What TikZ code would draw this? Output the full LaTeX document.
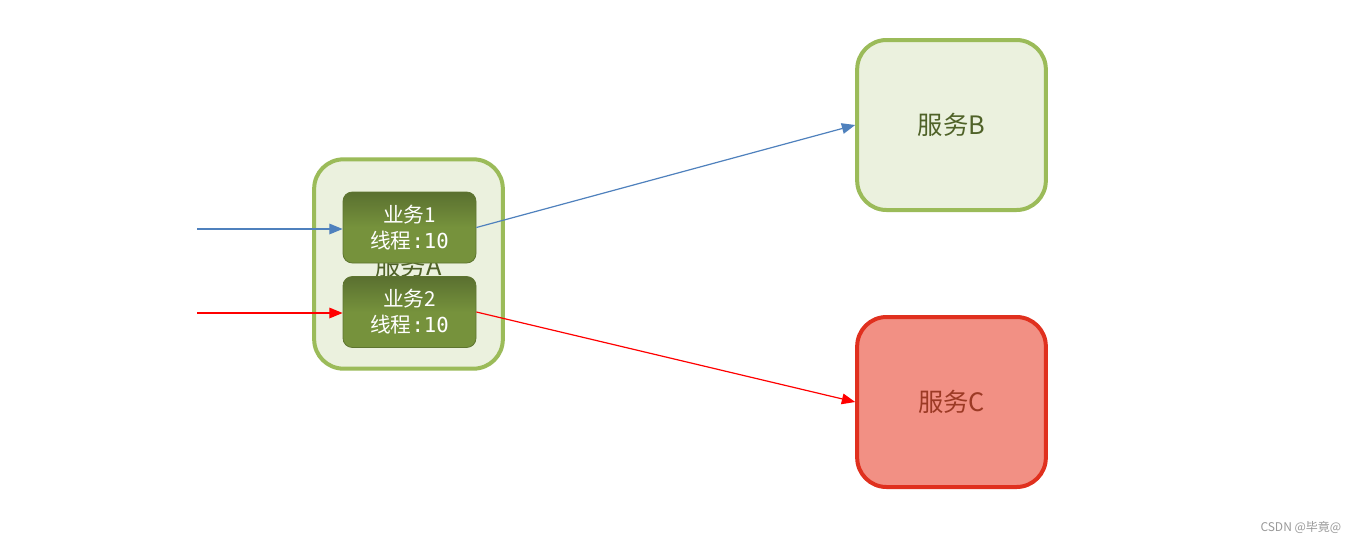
\documentclass[tikz,border=0pt]{standalone}
\usepackage{fontspec}
\setmainfont{Noto Sans CJK SC}
\newfontfamily\monofont{DejaVu Sans Mono}
\usetikzlibrary{arrows.meta}
\definecolor{svcgreen}{HTML}{9BBB59}
\definecolor{svcfill}{HTML}{EBF1DE}
\definecolor{svctext}{HTML}{4F6228}
\definecolor{taskfill}{HTML}{76923C}
\definecolor{tasktop}{HTML}{5A7030}
\definecolor{redfill}{HTML}{F29084}
\definecolor{redline}{HTML}{E0301E}
\definecolor{redtext}{HTML}{9C3A25}
\definecolor{bluearrow}{HTML}{4F81BD}
\tikzset{
  svc/.style={draw=svcgreen, line width=3pt, fill=svcfill, rounded corners=22pt, text=svctext, font=\fontsize{19}{22}\selectfont, inner sep=0pt},
  svcred/.style={svc, draw=redline, fill=redfill, text=redtext},
  task/.style={top color=tasktop, bottom color=taskfill, middle color=taskfill, draw=taskfill!80!black, line width=0.6pt, rounded corners=7pt, text=white, align=center, font=\fontsize{15.5}{19.5}\selectfont, inner sep=0pt, minimum width=99.75pt, minimum height=53.25pt},
  conn/.style={line width=0.9pt, -{Triangle[length=10pt,width=8pt]}},
}
\begin{document}
\begin{tikzpicture}[x=0.75pt,y=-0.75pt]
\useasboundingbox (0,0) rectangle (1358,543);
\fill[white] (0,0) rectangle (1358,543);
% service A
\node[svc, minimum width=141.5pt, minimum height=157pt] (A) at (408.5,264) {};
\node[text=svctext, font=\fontsize{19}{22}\selectfont] (Alabel) at (408.5,266) {服务A};
\node[task] (t1) at (409.5,227.5) {业务1\\线程{\monofont:10}};
\node[task] (t2) at (409.5,312) {业务2\\线程{\monofont:10}};
% service B, C
\node[svc, minimum width=141.5pt, minimum height=127.5pt] (B) at (951.5,125) {服务B};
\node[svcred, minimum width=141.5pt, minimum height=127.5pt] (C) at (951.5,402) {服务C};
% inputs
\coordinate (in1) at (197,229);
\coordinate (in2) at (197,313);
\draw[conn, bluearrow] (in1) -- (t1.west |- in1);
\draw[conn, red] (in2) -- (t2.west |- in2);
\draw[conn, bluearrow] (t1.east) -- (B.west);
\draw[conn, red] (t2.east) -- (C.west);
% watermark
\node[text=gray!80, font=\fontsize{9}{10}\selectfont, anchor=east] (wm) at (1346,527) {CSDN @毕竟@};
\end{tikzpicture}
\end{document}
